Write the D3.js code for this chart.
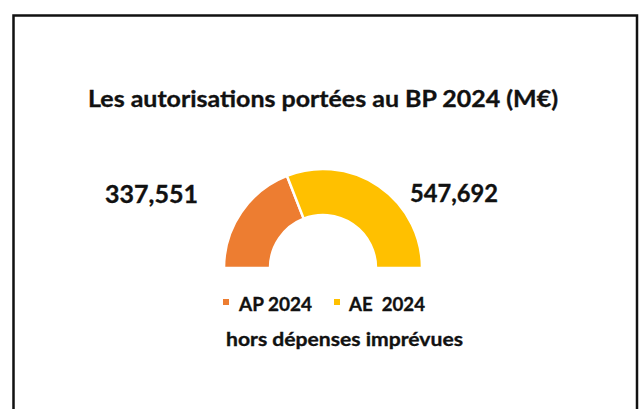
<!DOCTYPE html>
<html>
<head>
<meta charset="utf-8">
<script src="https://cdn.jsdelivr.net/npm/d3@7"></script>
<style>
  body { margin: 0; background: #fff; }
  svg { display: block; }
  text { font-family: Lato, "Open Sans", sans-serif; font-weight: 700; fill: #111; stroke: #111; stroke-width: 0.35px; }
</style>
</head>
<body>
<script>
var width = 640, height = 409;

var categories = ["AP 2024", "AE  2024"];
var values = [337.551, 547.692];
var valueLabels = ["337,551", "547,692"];
var colors = ["#ED7D31", "#FFC000"];
var title = "Les autorisations portées au BP 2024 (M€)";
var note = "hors dépenses imprévues";

var svg = d3.select("body").append("svg")
    .attr("width", width)
    .attr("height", height);

// frame, open at the bottom
svg.append("path")
    .attr("d", "M13.5,420V15.6H637V420")
    .style("fill", "none")
    .style("stroke", "#111")
    .style("stroke-width", 2.5);

// fit a text to a given width
function fit(sel, w) {
  sel.attr("textLength", w).attr("lengthAdjust", "spacingAndGlyphs");
  return sel;
}

fit(svg.append("text")
    .attr("x", 88).attr("y", 107)
    .style("font-size", "23px")
    .text(title), 470);

var cx = 323, cy = 268;

var pie = d3.pie()
    .sort(null)
    .startAngle(-Math.PI / 2)
    .endAngle(Math.PI / 2);

var arc = d3.arc()
    .innerRadius(53)
    .outerRadius(99);

var g = svg.append("g").attr("transform", "translate(" + cx + "," + cy + ")");

g.selectAll("path")
    .data(pie(values))
  .enter().append("path")
    .attr("d", arc)
    .style("fill", function(d, i) { return colors[i]; })
    .style("stroke", "#fff")
    .style("stroke-width", 2.5);

// value labels either side
var labelPos = [[105, 203, 93], [410, 202, 88]];
valueLabels.forEach(function(t, i) {
  fit(svg.append("text")
      .attr("x", labelPos[i][0]).attr("y", labelPos[i][1])
      .style("font-size", "25.5px")
      .text(t), labelPos[i][2]);
});

// legend
var legendPos = [[223, 239, 73], [334, 349, 76]];
categories.forEach(function(c, i) {
  svg.append("rect")
      .attr("x", legendPos[i][0]).attr("y", 299)
      .attr("width", 6).attr("height", 6)
      .style("fill", colors[i]);
  fit(svg.append("text")
      .attr("x", legendPos[i][1]).attr("y", 310.5)
      .style("font-size", "19.5px")
      .attr("xml:space", "preserve")
      .text(c), legendPos[i][2]);
});

fit(svg.append("text")
    .attr("x", 226).attr("y", 346)
    .style("font-size", "19px")
    .text(note), 237);
</script>
</body>
</html>
